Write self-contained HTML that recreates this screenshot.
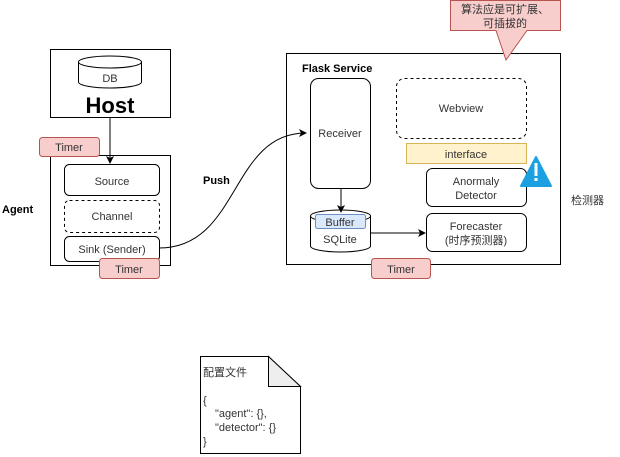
<!DOCTYPE html>
<html><head><meta charset="utf-8"><style>
html,body{margin:0;padding:0;background:#fff}
svg{display:block}
text{font-family:"Liberation Sans","Noto Sans CJK SC",sans-serif;font-size:11px;fill:#333}
.b{font-weight:bold;fill:#000}
</style></head><body>
<svg width="620" height="457" viewBox="0 0 620 457" xmlns="http://www.w3.org/2000/svg">
<defs><marker id="a" markerWidth="8" markerHeight="8" refX="7" refY="4" orient="auto" markerUnits="userSpaceOnUse"><path d="M0,0 L8,4 L0,8 L2,4 z" fill="#000"/></marker></defs>
<g fill="none" stroke="#000" stroke-width="1">
<!-- Host -->
<rect x="50.5" y="49.5" width="120" height="68" fill="#fff"/>
<path d="M78.5,62 v20 a31.5,6 0 0 0 63,0 v-20" fill="#fff"/>
<ellipse cx="110" cy="62" rx="31.5" ry="6" fill="#fff"/>
<!-- Agent -->
<rect x="50.5" y="155.5" width="120" height="110" fill="#fff"/>
<rect x="64.5" y="164.5" width="95" height="31" rx="5" fill="#fff"/>
<rect x="64.5" y="200.5" width="95" height="32" rx="5" stroke-dasharray="3,3" fill="#fff"/>
<rect x="64.5" y="236.5" width="95" height="25" rx="5" fill="#fff"/>
<line x1="110" y1="117" x2="110" y2="163" marker-end="url(#a)"/>
<path d="M159,248 C240,248 230,133 306,133" marker-end="url(#a)"/>
<!-- Flask -->
<rect x="286.5" y="53.5" width="274" height="211"/>
<rect x="310.5" y="78.5" width="60" height="110" rx="8" fill="#fff"/>
<rect x="396.5" y="78.5" width="130" height="60" rx="8" stroke-dasharray="3,3"/>
<rect x="426.5" y="168.5" width="100" height="38" rx="6" fill="#fff"/>
<rect x="426.5" y="213.5" width="100" height="38" rx="6" fill="#fff"/>
<path d="M310.5,216 v30 a30,6 0 0 0 60,0 v-30" fill="#fff"/>
<ellipse cx="340.5" cy="216" rx="30" ry="6" fill="#fff"/>
<line x1="341" y1="188" x2="341" y2="212" marker-end="url(#a)"/>
<line x1="370" y1="233" x2="425" y2="233" marker-end="url(#a)"/>
<!-- doc -->
<path d="M200.5,356.5 H268.5 L300.5,386.5 V453.5 H200.5 Z" fill="#fff"/>
<path d="M268.5,356.5 V386.5 H300.5 Z" fill="#eee"/>
</g>
<rect x="406.5" y="143.5" width="120" height="20" fill="#fff2cc" stroke="#d6b656"/>
<rect x="315.5" y="214.5" width="50" height="14" rx="2" fill="#dae8fc" stroke="#6c8ebf"/>
<rect x="39.5" y="137.5" width="60" height="19" rx="3" fill="#f8cecc" stroke="#b85450"/>
<rect x="99.5" y="258.5" width="60" height="20" rx="3" fill="#f8cecc" stroke="#b85450"/>
<rect x="371.5" y="258.5" width="59" height="20" rx="3" fill="#f8cecc" stroke="#b85450"/>
<path d="M450.5,0.5 H560.5 V30.5 H527 L506,60 L496,30.5 H450.5 Z" fill="#f8cecc" stroke="#b85450"/>
<path d="M536,157 L551,186 H521 Z" fill="#1ba1e2" stroke="#1ba1e2" stroke-linejoin="round" stroke-width="2"/>
<rect x="534.5" y="163" width="3" height="13" fill="#fff"/>
<rect x="534.5" y="178" width="3" height="3" fill="#fff"/>
<text x="110" y="82" text-anchor="middle">DB</text>
<text x="110" y="113" text-anchor="middle" class="b" style="font-size:22px">Host</text>
<text x="69" y="151" text-anchor="middle">Timer</text>
<text x="112" y="185" text-anchor="middle">Source</text>
<text x="112" y="220" text-anchor="middle">Channel</text>
<text x="112" y="253" text-anchor="middle">Sink (Sender)</text>
<text x="129" y="273" text-anchor="middle">Timer</text>
<text x="2" y="213" class="b">Agent</text>
<text x="203" y="184" class="b">Push</text>
<text x="302" y="72" class="b">Flask Service</text>
<text x="340" y="137" text-anchor="middle">Receiver</text>
<text x="461" y="112" text-anchor="middle">Webview</text>
<text x="466" y="158" text-anchor="middle">interface</text>
<text x="476" y="185" text-anchor="middle">Anormaly</text>
<text x="476" y="199" text-anchor="middle">Detector</text>
<text x="476" y="230" text-anchor="middle">Forecaster</text>
<text x="476" y="244" text-anchor="middle">(时序预测器)</text>
<text x="340" y="226" text-anchor="middle">Buffer</text>
<text x="340" y="243" text-anchor="middle">SQLite</text>
<text x="401" y="273" text-anchor="middle">Timer</text>
<text x="571" y="204">检测器</text>
<text x="505" y="13" text-anchor="middle">算法应是可扩展、</text>
<text x="505" y="27" text-anchor="middle">可插拔的</text>
<text x="203" y="376">配置文件</text>
<text x="203" y="404">{</text>
<text x="215" y="417">"agent": {},</text>
<text x="215" y="431">"detector": {}</text>
<text x="203" y="445">}</text>
</svg>
</body></html>
